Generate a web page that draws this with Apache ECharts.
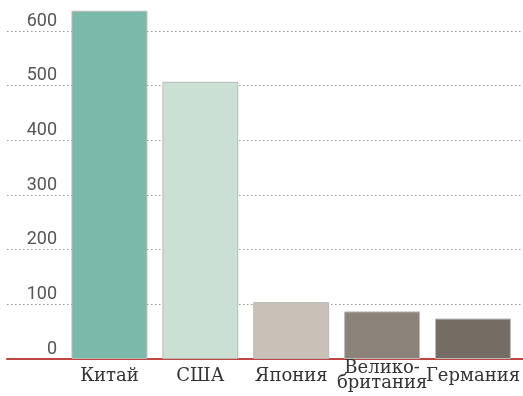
<!DOCTYPE html>
<html>
<head>
<meta charset="utf-8">
<style>
  html, body { margin: 0; padding: 0; background: #fff; }
  #chart { width: 523px; height: 396px; }
</style>
<script src="https://cdn.jsdelivr.net/npm/echarts@6/dist/echarts.min.js"></script>
</head>
<body>
<div id="chart"></div>
<script>
// Countries and their values
const categories = ['Китай', 'США', 'Япония', 'Велико-\nбритания', 'Германия'];
const values = [637, 507, 104, 87, 74];
const barColors = ['#7bb9a9', '#cbe0d4', '#c9c0b7', '#8b8279', '#756d64'];
const yTicks = [0, 100, 200, 300, 400, 500, 600];

const chart = echarts.init(document.getElementById('chart'));

chart.setOption({
  animation: false,
  grid: [
    // bars + labels
    { left: 64, right: 4, top: 31, bottom: 37, containLabel: false },
    // full-width dotted guides and the baseline
    { left: 7, right: 0, top: 31, bottom: 37, containLabel: false }
  ],
  xAxis: [
    {
      gridIndex: 0,
      type: 'category',
      data: categories,
      axisLine: { show: false },
      axisTick: { show: false },
      axisLabel: {
        margin: 17,
        verticalAlign: 'middle',
        fontFamily: 'DejaVu Serif',
        fontSize: 18,
        lineHeight: 15,
        color: '#333',
        interval: 0
      }
    },
    {
      gridIndex: 1,
      type: 'value',
      min: 0, max: 1,
      axisLine: { show: true, onZero: false, lineStyle: { color: '#c0443f', width: 2 } },
      axisTick: { show: false },
      axisLabel: { show: false },
      splitLine: { show: false }
    }
  ],
  yAxis: [
    {
      gridIndex: 0,
      type: 'value',
      min: yTicks[0],
      max: yTicks[yTicks.length - 1],
      interval: 100,
      axisLine: { show: false },
      axisTick: { show: false },
      splitLine: { show: false },
      axisLabel: {
        margin: 7,
        verticalAlign: 'bottom',
        padding: [0, 0, 1, 0],
        fontFamily: 'Roboto',
        fontSize: 18,
        color: '#555'
      }
    },
    {
      gridIndex: 1,
      type: 'value',
      min: yTicks[0],
      max: yTicks[yTicks.length - 1],
      interval: 100,
      axisLine: { show: false },
      axisTick: { show: false },
      axisLabel: { show: false },
      splitLine: { show: true, lineStyle: { color: '#999', type: [1.5, 2.5], width: 1 } }
    }
  ],
  series: [
    {
      type: 'bar',
      xAxisIndex: 0,
      yAxisIndex: 0,
      clip: false,
      barCategoryGap: '16.5%',
      z: 3,
      data: values.map((v, i) => ({
        value: v,
        itemStyle: { color: barColors[i], borderColor: '#b9b9b9', borderWidth: 1 }
      }))
    }
  ]
});
</script>
</body>
</html>
